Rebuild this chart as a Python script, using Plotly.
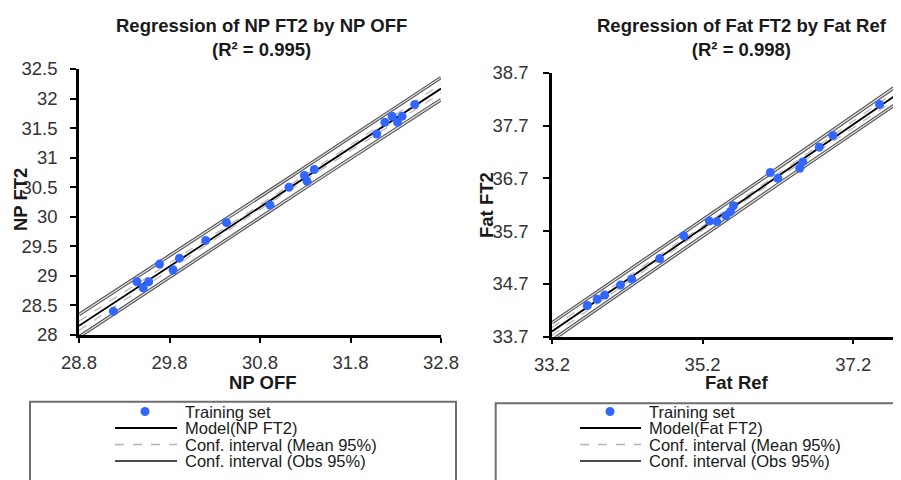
import numpy as np
import plotly.graph_objects as go

# ---------------- data ----------------
np_off = [29.18, 29.44, 29.51, 29.57, 29.69, 29.84, 29.91, 30.20, 30.43, 30.91,
          31.12, 31.29, 31.32, 31.40, 32.09, 32.18, 32.26, 32.32, 32.37, 32.51]
np_ft2 = [28.40, 28.90, 28.80, 28.90, 29.20, 29.10, 29.30, 29.60, 29.90, 30.20,
          30.50, 30.70, 30.60, 30.80, 31.40, 31.60, 31.70, 31.60, 31.70, 31.90]

fat_ref = [33.67, 33.80, 33.90, 34.11, 34.26, 34.63, 34.95, 35.29, 35.39, 35.51,
           35.57, 35.61, 36.10, 36.20, 36.49, 36.53, 36.75, 36.93, 37.55]
fat_ft2 = [34.29, 34.41, 34.49, 34.68, 34.79, 35.18, 35.61, 35.89, 35.88, 35.99,
           36.07, 36.18, 36.81, 36.70, 36.89, 37.01, 37.29, 37.51, 38.10]

titles = ["Regression of NP FT2 by NP OFF<br>(R² = 0.995)",
          "Regression of Fat FT2 by Fat Ref<br>(R² = 0.998)"]
x_titles = ["NP OFF", "Fat Ref"]
y_titles = ["NP FT2", "Fat FT2"]
legend_left = ["Training set", "Model(NP FT2)", "Conf. interval (Mean 95%)", "Conf. interval (Obs 95%)"]
legend_right = ["Training set", "Model(Fat FT2)", "Conf. interval (Mean 95%)", "Conf. interval (Obs 95%)"]

x_range_left = [28.8, 32.8]
y_range_left = [28.0, 32.5]
x_range_right = [33.2, 37.835]
y_range_right = [33.7, 38.7]

T95 = {17: 2.1098, 18: 2.1009}  # Student t, two-sided 95 %

# the page body has an 8px margin: draw a figure of 893x472 placed at (8, 8)
OFF = 8
W, H = 901 - OFF, 480 - OFF
def px(x): return (x - OFF) / W
def py(y): return 1 - (y - OFF) / H

BLUE = "#3366ff"


def regression(xs, ys, xr):
    x = np.asarray(xs, float); y = np.asarray(ys, float)
    n = len(x)
    b, a = np.polyfit(x, y, 1)
    res = y - (a + b * x)
    s = np.sqrt(np.sum(res ** 2) / (n - 2))
    sxx = np.sum((x - x.mean()) ** 2)
    t = T95[n - 2]
    g = np.linspace(xr[0], xr[1], 60)
    fit = a + b * g
    se_m = s * np.sqrt(1 / n + (g - x.mean()) ** 2 / sxx)
    se_o = s * np.sqrt(1 + 1 / n + (g - x.mean()) ** 2 / sxx)
    return g, fit, t * se_m, t * se_o


fig = go.Figure()


def add_panel(xs, ys, xr, xa, ya):
    g, fit, hm, ho = regression(xs, ys, xr)
    for sgn in (1, -1):
        fig.add_trace(go.Scatter(x=g, y=fit + sgn * ho, mode="lines", xaxis=xa, yaxis=ya,
                                 line=dict(color="#4d4d4d", width=3.4), showlegend=False,
                                 hoverinfo="skip"))
        fig.add_trace(go.Scatter(x=g, y=fit + sgn * ho, mode="lines", xaxis=xa, yaxis=ya,
                                 line=dict(color="#dcdcdc", width=1.3), showlegend=False,
                                 hoverinfo="skip"))
        fig.add_trace(go.Scatter(x=g, y=fit + sgn * hm, mode="lines", xaxis=xa, yaxis=ya,
                                 line=dict(color="#b4b4b4", width=1.2, dash="dash"),
                                 showlegend=False, hoverinfo="skip"))
    fig.add_trace(go.Scatter(x=g, y=fit, mode="lines", xaxis=xa, yaxis=ya,
                             line=dict(color="black", width=1.8), showlegend=False))
    fig.add_trace(go.Scatter(x=xs, y=ys, mode="markers", xaxis=xa, yaxis=ya,
                             marker=dict(color=BLUE, size=9), showlegend=False))


add_panel(np_off, np_ft2, x_range_left, "x", "y")
add_panel(fat_ref, fat_ft2, x_range_right, "x2", "y2")

tickfont = dict(family="Liberation Sans, Arial", size=18.5, color="#333333")
axis_common = dict(showline=True, linecolor="black", linewidth=2.5, ticks="outside",
                   tickcolor="black", tickwidth=2, showgrid=False, zeroline=False,
                   tickfont=tickfont, fixedrange=True, automargin=False)

fig.update_layout(
    width=W, height=H, margin=dict(l=0, r=0, t=0, b=0, autoexpand=False),
    paper_bgcolor="white", plot_bgcolor="white", showlegend=False,
    xaxis=dict(domain=[px(79), px(441)], range=x_range_left, tick0=28.8, dtick=1,
               ticklen=5, ticklabelstandoff=4, anchor="y", **axis_common),
    yaxis=dict(domain=[py(335), py(69)], range=y_range_left, tick0=28, dtick=0.5,
               ticklen=6, ticklabelstandoff=9, anchor="x", **axis_common),
    xaxis2=dict(domain=[px(552), 1.0], range=x_range_right, tick0=33.2, dtick=2,
                ticklen=5, ticklabelstandoff=4, anchor="y2", **axis_common),
    yaxis2=dict(domain=[py(336.7), py(72.7)], range=y_range_right, tick0=33.7, dtick=1,
                ticklen=6, ticklabelstandoff=11, anchor="x2", **axis_common),
)

bold = dict(family="Liberation Sans, Arial", size=18.5, color="#1a1a1a", weight="bold")
ann = []
for txt, cx in zip(titles, [261, 742]):
    ann.append(dict(text=f"<b>{txt}</b>", x=px(cx), y=py(37.5), xref="paper", yref="paper",
                    showarrow=False, xanchor="center", yanchor="middle", font=bold))
for txt, cx in zip(x_titles, [263, 737]):
    ann.append(dict(text=f"<b>{txt}</b>", x=px(cx), y=py(382), xref="paper", yref="paper",
                    showarrow=False, xanchor="center", yanchor="middle", font=bold))
for txt, cx, cy in zip(y_titles, [20, 486], [200, 205]):
    ann.append(dict(text=f"<b>{txt}</b>", x=px(cx), y=py(cy), xref="paper", yref="paper",
                    showarrow=False, xanchor="center", yanchor="middle", textangle=-90,
                    font=bold))

# ---------------- manual legends ----------------
legfont = dict(family="Liberation Sans, Arial", size=16.5, color="#1a1a1a")
shapes = []
rows = [411.5, 428, 444.5, 461]
for labels, box_x0, box_x1, box_y0, line_x0, line_x1, dot_x, text_x in [
        (legend_left, 30, 456, 401.7, 115, 177, 145, 183),
        (legend_right, 495.7, 915, 403.3, 580, 641, 610, 647)]:
    shapes.append(dict(type="rect", xref="paper", yref="paper",
                       x0=px(box_x0), x1=px(box_x1), y0=py(box_y0), y1=py(500),
                       line=dict(color="#6e6e6e", width=2)))
    r = 4.5
    shapes.append(dict(type="circle", xref="paper", yref="paper",
                       x0=px(dot_x - r), x1=px(dot_x + r), y0=py(rows[0] + r), y1=py(rows[0] - r),
                       fillcolor=BLUE, line=dict(color=BLUE, width=0)))
    styles = [dict(color="black", width=2),
              dict(color="#b4b4b4", width=1.5, dash="dash"),
              dict(color="#4d4d4d", width=2)]
    for yy, st in zip(rows[1:], styles):
        shapes.append(dict(type="line", xref="paper", yref="paper",
                           x0=px(line_x0), x1=px(line_x1), y0=py(yy), y1=py(yy), line=st))
    for yy, lab in zip(rows, labels):
        ann.append(dict(text=lab, x=px(text_x), y=py(yy), xref="paper", yref="paper",
                        showarrow=False, xanchor="left", yanchor="middle", font=legfont))

fig.update_layout(annotations=ann, shapes=shapes)
fig.write_html("out.html")
